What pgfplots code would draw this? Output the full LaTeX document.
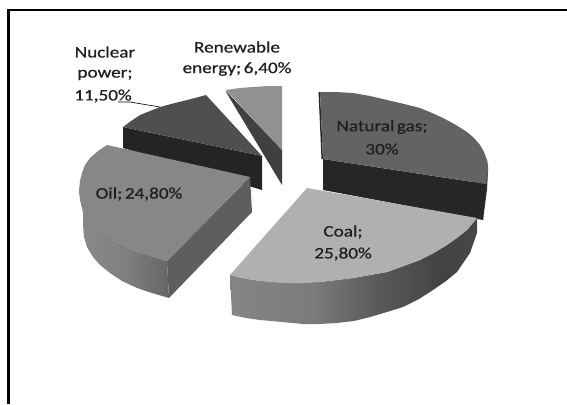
\documentclass[border=0pt]{standalone}
\usepackage{pgfplots}
\pgfplotsset{compat=1.18}
\usepackage{fontspec}
\setmainfont{Carlito}[WordSpace=0.6, FakeStretch=1.2, FakeBold=0.6]
\definecolor{gasT}{gray}{0.39}
\definecolor{gasF}{gray}{0.15}
\definecolor{gasS}{gray}{0.22}
\definecolor{coalT}{gray}{0.69}
\definecolor{oilT}{gray}{0.53}
\definecolor{oilF}{gray}{0.37}
\definecolor{nucT}{gray}{0.31}
\definecolor{nucF}{gray}{0.14}
\definecolor{renT}{gray}{0.57}
\definecolor{renF}{gray}{0.25}
\pgfdeclarehorizontalshading{coalside}{100bp}{color(0bp)=(black!48!white); color(25bp)=(black!48!white); color(42bp)=(black!52!white); color(55bp)=(black!65!white); color(68bp)=(black!74!white); color(75bp)=(black!72!white); color(100bp)=(black!72!white)}
\pgfdeclarehorizontalshading{oilside}{100bp}{color(0bp)=(black!46!white); color(25bp)=(black!46!white); color(50bp)=(black!50!white); color(75bp)=(black!60!white); color(100bp)=(black!60!white)}
\tikzset{lab/.style={font=\fontsize{16}{19}\selectfont, text=black!88, inner sep=0pt}}
\begin{document}
\begin{tikzpicture}
\useasboundingbox (0,0) rectangle (567pt,404pt);
\begin{axis}[
  at={(0,0)}, anchor=south west, scale only axis, width=567pt, height=404pt,
  xmin=0, xmax=567, ymin=0, ymax=404, y dir=reverse, hide axis,
  every axis plot/.append style={no markers, draw=none, line width=0pt},
  clip=true,
]
% frame
\addplot[draw=black, line width=2.6pt, line cap=butt] coordinates {(8.5,404) (8.5,10) (567,10)};
% renewable
\addplot[fill=renF] coordinates {(226,91) (282,150) (282,185) (226,92)} --cycle;
\addplot[fill=renT] coordinates {(226,90) (240,88) (253,87) (268,86) (282,86) (282,150)} --cycle;
% nuclear
\addplot[fill=nucF] coordinates {(123,127) (262,156) (262,190) (123,148)} --cycle;
\addplot[fill=nucT] coordinates {(123,127) (131,121) (140,115) (150,111) (160,107) (171,104) (183,101) (195,98) (206,95) (262,156)} --cycle;
% oil
\addplot[fill=oilF] coordinates {(167,261) (250,177) (252,212) (169,298)} --cycle;
\addplot[shade, shading=oilside] coordinates {(79,190) (82,208) (93,223) (113,240) (137,252) (167,261) (169,298) (152,293) (137,288) (122,281) (110,273) (100,265) (93,257) (87,247) (84,237) (83,225) (83,213)} --cycle;
\addplot[fill=oilT] coordinates {(107,145) (98,151) (90,158) (85,165) (82,173) (80,181) (79,190) (80,200) (82,208) (87,216) (93,223) (103,232) (113,240) (125,246) (137,252) (152,257) (167,261) (250,177)} --cycle;
% natural gas
\addplot[fill=gasF] coordinates {(318.5,92) (320,92) (323,159) (321.5,159)} --cycle;
\addplot[fill=gasS] coordinates {(480,150) (487,160) (488,172) (487,190) (483,220) (470,200)} --cycle;
\addplot[fill=gasF] coordinates {(323,159) (323,190) (483,220) (486,184)} --cycle;
\addplot[fill=gasT] coordinates {(320,92) (336,92) (353,93) (370,96) (387,100) (404,104) (420,108) (432,113) (443,118) (456,125) (467,132) (474,138) (480,145) (484,152) (487,160) (488,166) (488,172) (487,178) (486,184) (323,159)} --cycle;
% coal
\addplot[shade, shading=coalside] coordinates {(230,275) (253,280) (287,283) (320,282) (353,278) (387,272) (420,260) (447,245) (467,230) (477,218) (477,233) (470,253) (457,272) (446,281) (433,290) (419,299) (403,307) (387,312) (370,317) (354,321) (337,323) (320,324) (303,324) (282,322) (260,320) (246,318) (232,315)} --cycle;
\addplot[fill=coalT] coordinates {(307,188) (477,218) (467,230) (457,238) (447,245) (434,253) (420,260) (404,266) (387,272) (370,275) (353,278) (337,280) (320,282) (303,283) (287,283) (270,282) (253,280) (241,278) (230,275)} --cycle;
% leader
\addplot[draw=black, line width=0.6pt] coordinates {(118,102) (130,102) (160,107)};
\node[lab] at (axis cs:105,52) {Nuclear};
\node[lab] at (axis cs:105,75) {power;};
\node[lab] at (axis cs:103,96) {11,50\%};
\node[lab] at (axis cs:237,47) {Renewable};
\node[lab] at (axis cs:237,69) {energy; 6,40\%};
\node[lab] at (axis cs:139,194) {Oil; 24,80\%};
\node[lab] at (axis cs:382,127) {Natural gas;};
\node[lab] at (axis cs:382,149) {30\%};
\node[lab] at (axis cs:343,232) {Coal;};
\node[lab] at (axis cs:343,254) {25,80\%};
\end{axis}
\end{tikzpicture}
\end{document}
